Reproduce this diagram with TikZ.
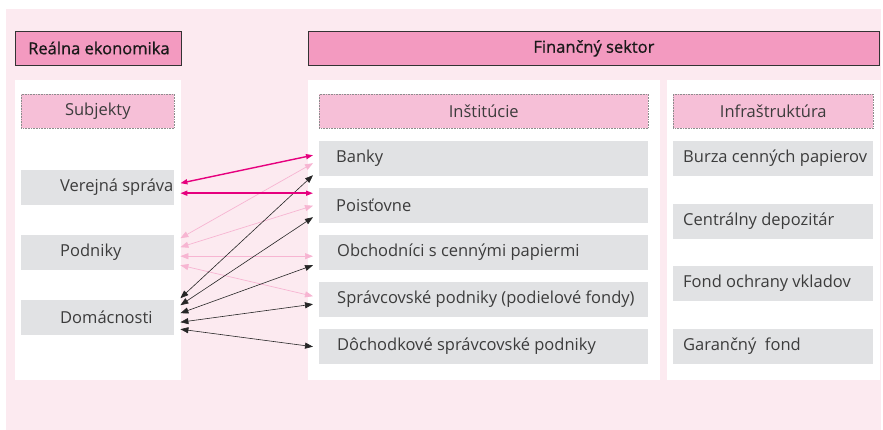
\documentclass[tikz,border=0pt]{standalone}
\usepackage{fontspec}
\setmainfont{Open Sans}
\newfontfamily\hdrfont{Open Sans}[FakeBold=0.8]
\usetikzlibrary{arrows.meta}
\definecolor{bgpink}{HTML}{FCEAF0}
\definecolor{hdpink}{HTML}{F39AC0}
\definecolor{subpink}{HTML}{F6BFD7}
\definecolor{boxgray}{HTML}{E1E2E4}
\definecolor{magarrow}{HTML}{E6007E}
\definecolor{lightarrow}{HTML}{F7B5D2}
\definecolor{txtgray}{HTML}{3C3C3C}
\tikzset{
  hdr/.style={draw=black!80, line width=0.8pt, fill=hdpink, anchor=north west, inner sep=0pt, font=\fontsize{16.5}{19}\hdrfont, text=black!90},
  panel/.style={fill=white, draw=none, anchor=north west, inner sep=0pt},
  subbox/.style={fill=subpink, draw=black!45, densely dotted, line width=0.6pt, anchor=north west, inner sep=0pt, minimum height=34pt, font=\fontsize{16.5}{19}\selectfont\color{txtgray}},
  item/.style={fill=boxgray, draw=none, anchor=north west, inner sep=0pt, minimum height=35pt},
  itemtxt/.style={anchor=west, inner sep=0pt, font=\fontsize{16.5}{19}\selectfont\color{txtgray}},
  lnk/.style={<->, >={Triangle[length=8pt,width=6pt]}, line width=0.7pt},
  lnkmag/.style={lnk, color=magarrow, line width=1.4pt, >={Triangle[length=7pt,width=5pt]}},
  lnklight/.style={lnk, color=lightarrow},
  lnkblack/.style={lnk, color=black!85, line width=0.6pt}
}
\begin{document}
\begin{tikzpicture}[x=1pt,y=-1pt]
\useasboundingbox (0,0) rectangle (883,430);
\fill[bgpink] (6,9) rectangle (881,430);
% headers
\node[hdr, minimum width=166pt, minimum height=34pt] (hre) at (15,31) {};
\node[anchor=west, inner sep=0pt, font=\fontsize{16.5}{19}\hdrfont, text=black!90] (hretxt) at (28,48) {Reálna ekonomika};
\node[hdr, minimum width=571pt, minimum height=34pt] (hfs) at (308,31) {Finančný sektor};
% panels
\node[panel, minimum width=166pt, minimum height=300pt] (pl) at (15,80) {};
\node[panel, minimum width=352pt, minimum height=300pt] (pm) at (308,80) {};
\node[panel, minimum width=213pt, minimum height=300pt] (pr) at (667,80) {};
% sub headers
\node[subbox, minimum width=153pt] (subj) at (21,94) {Subjekty};
\node[subbox, minimum width=329pt] (inst) at (319,94) {Inštitúcie};
\node[subbox, minimum width=200pt] (infra) at (673,94) {Infraštruktúra};
% left items
\node[item, minimum width=153pt] (vs) at (21,170) {};
\node[itemtxt] (vst) at (60,187.5) {Verejná správa};
\node[item, minimum width=153pt] (pod) at (21,235) {};
\node[itemtxt] (podt) at (60,252.5) {Podniky};
\node[item, minimum width=153pt] (dom) at (21,300) {};
\node[itemtxt] (domt) at (60,317.5) {Domácnosti};
% institutions
\node[item, minimum width=329pt] (ban) at (319,141) {};
\node[itemtxt] (bant) at (336,158.5) {Banky};
\node[item, minimum width=329pt] (poi) at (319,188) {};
\node[itemtxt] (poit) at (336,205.5) {Poisťovne};
\node[item, minimum width=329pt] (obc) at (319,235) {};
\node[itemtxt] (obct) at (337,252.5) {Obchodníci s cennými papiermi};
\node[item, minimum width=329pt] (spr) at (319,282) {};
\node[itemtxt] (sprt) at (337,299.5) {Správcovské podniky (podielové fondy)};
\node[item, minimum width=329pt] (doc) at (319,329) {};
\node[itemtxt] (doct) at (337,346) {Dôchodkové správcovské podniky};
% infrastructure
\node[item, minimum width=200pt] (bur) at (673,141) {};
\node[itemtxt] (burt) at (683,158.5) {Burza cenných papierov};
\node[item, minimum width=200pt] (cen) at (673,204) {};
\node[itemtxt] (cent) at (683,221) {Centrálny depozitár};
\node[item, minimum width=200pt] (fon) at (673,266) {};
\node[itemtxt] (fovt) at (683,283.5) {Fond ochrany vkladov};
\node[item, minimum width=200pt] (gar) at (673,329) {};
\node[itemtxt] (gart) at (683,346) {Garančný\ \ fond};
% arrows light pink
\draw[lnklight] ([xshift=6pt,yshift=14.5pt]pod.east) -- ([xshift=-6pt,yshift=-4.5pt]ban.west);
\draw[lnklight] ([xshift=6pt,yshift=5.5pt]pod.east) -- ([xshift=-6pt]poi.west);
\draw[lnklight] ([xshift=6pt,yshift=-3.5pt]pod.east) -- ([xshift=-6pt,yshift=-3.5pt]obc.west);
\draw[lnklight] ([xshift=6pt,yshift=-12.5pt]pod.east) -- ([xshift=-6pt,yshift=3.5pt]spr.west);
% arrows black
\draw[lnkblack] ([xshift=6pt,yshift=19.5pt]dom.east) -- ([xshift=-6pt,yshift=-16.5pt]ban.west);
\draw[lnkblack] ([xshift=6pt,yshift=12.5pt]dom.east) -- ([xshift=-6pt,yshift=-11.5pt]poi.west);
\draw[lnkblack] ([xshift=6pt,yshift=4.5pt]dom.east) -- ([xshift=-6pt,yshift=-12.5pt]obc.west);
\draw[lnkblack] ([xshift=6pt,yshift=-4.5pt]dom.east) -- ([xshift=-6pt,yshift=-4.5pt]spr.west);
\draw[lnkblack] ([xshift=6pt,yshift=-11.5pt]dom.east) -- ([xshift=-6pt]doc.west);
% arrows magenta (on top)
\draw[lnkmag] ([xshift=6pt,yshift=4.5pt]vs.east) -- ([xshift=-6pt,yshift=3.5pt]ban.west);
\draw[lnkmag] ([xshift=6pt,yshift=-5.5pt]vs.east) -- ([xshift=-6pt,yshift=12.5pt]poi.west);
\end{tikzpicture}
\end{document}
